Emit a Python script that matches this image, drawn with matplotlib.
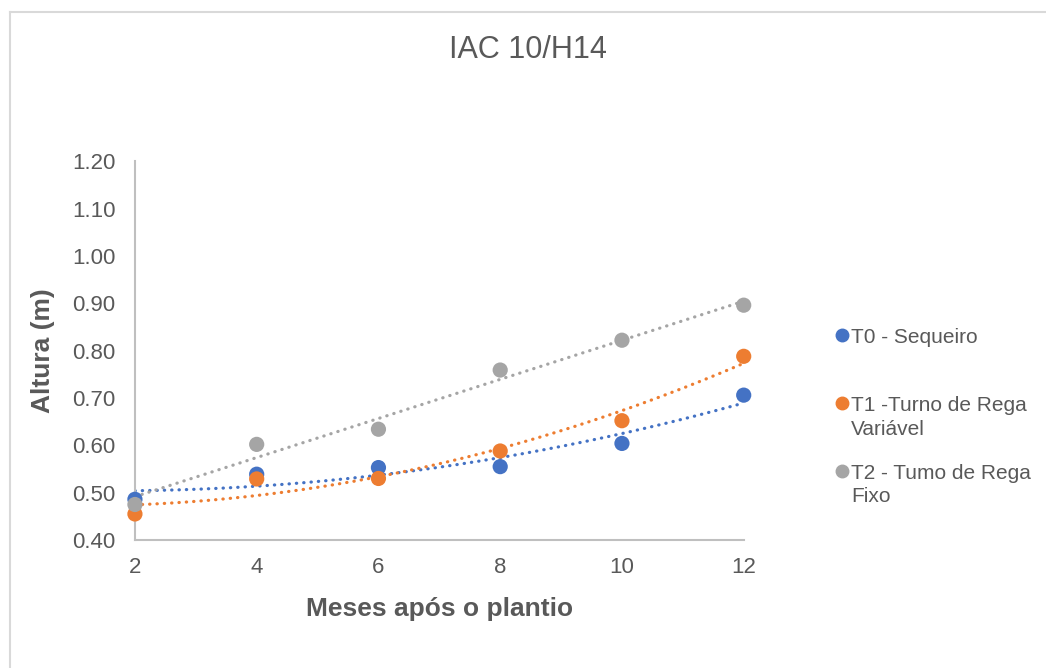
import numpy as np
import matplotlib.pyplot as plt
from matplotlib.lines import Line2D
from matplotlib.legend_handler import HandlerLine2D

plt.rcParams['font.family'] = ['Liberation Sans', 'DejaVu Sans']

# dados
meses = [2, 4, 6, 8, 10, 12]
t0_sequeiro = [0.486, 0.539, 0.553, 0.555, 0.604, 0.706]
t1_variavel = [0.455, 0.529, 0.530, 0.588, 0.652, 0.788]
t2_fixo = [0.475, 0.602, 0.634, 0.759, 0.822, 0.896]

nomes = ['T0 - Sequeiro\n', 'T1 -Turno de Rega\nVariável', 'T2 - Tumo de Rega\nFixo']
cores = ['#4472C4', '#ED7D31', '#A5A5A5']
graus = [2, 2, 1]  # linha de tendência (polinomial / linear)

cinza_txt = '#595959'


class MarcadorPrimeiraLinha(HandlerLine2D):
    # põe o marcador da legenda ao nível da primeira linha do texto
    def create_artists(self, legend, orig_handle, xdescent, ydescent, width, height, fontsize, trans):
        arts = super().create_artists(legend, orig_handle, xdescent, ydescent, width, height, fontsize, trans)
        for a in arts:
            a.set_ydata(np.asarray(a.get_ydata()) + 0.68 * fontsize)
        return arts


fig = plt.figure(figsize=(10.46, 6.68), dpi=100)
ax = fig.add_axes([0.129, 0.1916, 0.582, 0.567])

x = np.array(meses)
xs = np.linspace(2, 12, 200)
handles = []
for serie, nome, cor, g in zip([t0_sequeiro, t1_variavel, t2_fixo], nomes, cores, graus):
    coef = np.polyfit(x, serie, g)
    ax.plot(xs, np.polyval(coef, xs), color=cor, lw=2.3, linestyle=(0, (0.1, 2.2)),
            dash_capstyle='round', zorder=2)
    ax.scatter(x, serie, s=120, color=cor, edgecolors='none', zorder=3, clip_on=False)
    handles.append(Line2D([], [], marker='o', color=cor, linestyle='none', markersize=9))

ax.set_xlim(2, 12)
ax.set_ylim(0.40, 1.20)
ax.set_xticks(meses)
ax.set_yticks(np.arange(0.40, 1.201, 0.10))
ax.yaxis.set_major_formatter(plt.FuncFormatter(lambda v, p: f'{v:.2f}'))
ax.tick_params(length=0, labelsize=16, colors=cinza_txt)
ax.tick_params(axis='y', pad=14)
ax.tick_params(axis='x', pad=12)
for lado in ['top', 'right']:
    ax.spines[lado].set_visible(False)
for lado in ['left', 'bottom']:
    ax.spines[lado].set_color('#BFBFBF')
    ax.spines[lado].set_linewidth(1.5)

ax.set_xlabel('Meses após o plantio', fontsize=19, fontweight='bold', color=cinza_txt, labelpad=14)
ax.set_ylabel('Altura (m)', fontsize=19, fontweight='bold', color=cinza_txt, labelpad=12)

fig.text(0.505, 0.925, 'IAC 10/H14', ha='center', va='center', fontsize=22, color=cinza_txt)

leg = fig.legend(handles, nomes, loc='upper left', bbox_to_anchor=(0.779, 0.537),
                 frameon=False, fontsize=15, handletextpad=0.05, handlelength=0.8,
                 labelspacing=1.2, labelcolor=cinza_txt,
                 handler_map={Line2D: MarcadorPrimeiraLinha()})
for t in leg.get_texts():
    t.set_linespacing(1.32)

# moldura do gráfico
fig.add_artist(Line2D([0.010, 0.010], [0, 0.982], color='#D9D9D9', lw=1.5))
fig.add_artist(Line2D([0.010, 1], [0.982, 0.982], color='#D9D9D9', lw=1.5))

fig.savefig('out.png', dpi=100)
